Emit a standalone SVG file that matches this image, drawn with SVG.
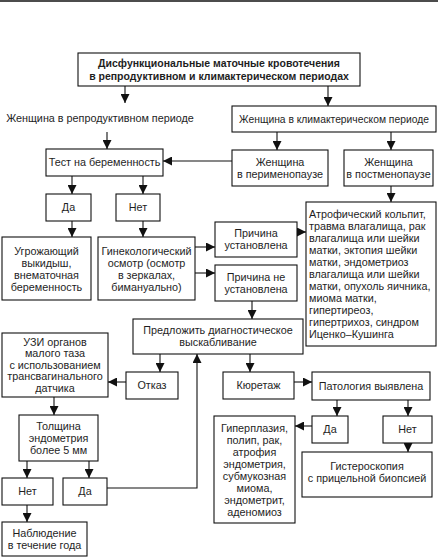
<svg xmlns="http://www.w3.org/2000/svg" width="438" height="557" viewBox="0 0 438 557">
<defs>
<marker id="ah" markerUnits="userSpaceOnUse" markerWidth="9" markerHeight="9" viewBox="0 0 9 9" refX="9" refY="4.5" orient="auto">
<path d="M0,0 L9,4.5 L0,9 z" fill="#111"/>
</marker>
<style>
rect{fill:#fff;stroke:#111;stroke-width:1.1}
text{font-family:"Liberation Sans",Arial,sans-serif;font-size:10.8px;fill:#1e1e1e;text-anchor:middle}
.t{font-weight:bold;font-size:10.5px}
.l{text-anchor:start}
.s{font-size:10.3px}
#connectors path{fill:none;stroke:#111;stroke-width:1.1;marker-end:url(#ah)}
</style>
</defs>
<rect x="0" y="0" width="438" height="557" style="fill:#fff;stroke:none"/>
<line x1="0" y1="1" x2="438" y2="1" stroke="#111" stroke-width="1.5"/>

<g id="title"><rect x="78" y="53" width="282" height="33"/>
<text class="t" x="219" y="67">Дисфункциональные маточные кровотечения</text>
<text class="t" x="219" y="80">в репродуктивном и климактерическом периодах</text></g>

<g id="reproductive"><text x="100" y="121.5">Женщина в репродуктивном периоде</text></g>

<g id="climacteric"><rect x="232" y="106" width="204" height="26"/>
<text class="s" x="334" y="122.5">Женщина в климактерическом периоде</text></g>

<g id="test"><rect x="46" y="149" width="117" height="27"/>
<text x="104.5" y="166">Тест на беременность</text></g>

<g id="peri"><rect x="232" y="150" width="96" height="36"/>
<text x="280" y="165.5">Женщина</text><text x="280" y="177.5">в перименопаузе</text></g>

<g id="post"><rect x="344" y="150" width="89" height="36"/>
<text x="388.5" y="165.5">Женщина</text><text x="388.5" y="177.5">в постменопаузе</text></g>

<g id="yes1"><rect x="46" y="194" width="45" height="27"/><text x="68.5" y="211">Да</text></g>
<g id="no1"><rect x="116" y="194" width="44" height="27"/><text x="138" y="211">Нет</text></g>

<g id="threat"><rect x="2" y="237" width="89" height="63"/>
<text x="46.5" y="254.5">Угрожающий</text><text x="46.5" y="266.5">выкидыш,</text><text x="46.5" y="278.5">внематочная</text><text x="46.5" y="290.5">беременность</text></g>

<g id="exam"><rect x="98" y="237" width="97" height="63"/>
<text x="146.5" y="254.5">Гинекологический</text><text x="146.5" y="266.5">осмотр (осмотр</text><text x="146.5" y="278.5">в зеркалах,</text><text x="146.5" y="290.5">бимануально)</text></g>

<g id="found"><rect x="215" y="222" width="82" height="35"/>
<text x="256" y="237">Причина</text><text x="256" y="249">установлена</text></g>

<g id="notfound"><rect x="215" y="265" width="82" height="36"/>
<text x="256" y="280.5">Причина не</text><text x="256" y="292.5">установлена</text></g>

<g id="causes"><rect x="306" y="202" width="130" height="144"/>
<text class="l" x="309" y="217.5">Атрофический кольпит,</text>
<text class="l" x="309" y="229.5">травма влагалища, рак</text>
<text class="l" x="309" y="241.5">влагалища или шейки</text>
<text class="l" x="309" y="253.5">матки, эктопия шейки</text>
<text class="l" x="309" y="265.5">матки, эндометриоз</text>
<text class="l" x="309" y="277.5">влагалища или шейки</text>
<text class="l" x="309" y="289.5">матки, опухоль яичника,</text>
<text class="l" x="309" y="301.5">миома матки,</text>
<text class="l" x="309" y="313.5">гипертиреоз,</text>
<text class="l" x="309" y="325.5">гипертрихоз, синдром</text>
<text class="l" x="309" y="337.5">Иценко–Кушинга</text></g>

<g id="curettage-offer"><rect x="133" y="319" width="170" height="35"/>
<text x="218" y="334">Предложить диагностическое</text><text x="218" y="346">выскабливание</text></g>

<g id="us"><rect x="2" y="333" width="106" height="64"/>
<text x="55" y="345.5">УЗИ органов</text><text x="55" y="357">малого таза</text><text x="55" y="368.5">с использованием</text><text x="55" y="380">трансвагинального</text><text x="55" y="391.5">датчика</text></g>

<g id="refuse"><rect x="126" y="372" width="52" height="27"/><text x="152" y="389">Отказ</text></g>

<g id="curettage"><rect x="223" y="372" width="71" height="27"/><text x="258.5" y="389">Кюретаж</text></g>

<g id="pathology"><rect x="312" y="372" width="118" height="28"/><text x="371" y="389.5">Патология выявлена</text></g>

<g id="thickness"><rect x="19" y="415" width="79" height="46"/>
<text x="58.5" y="429.5">Толщина</text><text x="58.5" y="441.5">эндометрия</text><text x="58.5" y="453.5">более 5 мм</text></g>

<g id="no2"><rect x="2" y="478" width="51" height="27"/><text x="27.5" y="495">Нет</text></g>
<g id="yes2"><rect x="63" y="478" width="44" height="27"/><text x="85" y="495">Да</text></g>

<g id="observe"><rect x="2" y="522" width="85" height="34"/>
<text x="44.5" y="536.5">Наблюдение</text><text x="44.5" y="548.5">в течение года</text></g>

<g id="yes3"><rect x="312" y="416" width="36" height="27"/><text x="330" y="433">Да</text></g>
<g id="no3"><rect x="383" y="416" width="49" height="27"/><text x="407.5" y="433">Нет</text></g>

<g id="hyper"><rect x="214" y="416" width="81" height="107"/>
<text x="254.5" y="431.5">Гиперплазия,</text><text x="254.5" y="443.5">полип, рак,</text><text x="254.5" y="455.5">атрофия</text><text x="254.5" y="467.5">эндометрия,</text><text x="254.5" y="479.5">субмукозная</text><text x="254.5" y="491.5">миома,</text><text x="254.5" y="503.5">эндометрит,</text><text x="254.5" y="515.5">аденомиоз</text></g>

<g id="hysteroscopy"><rect x="302" y="452" width="130" height="45"/>
<text x="367" y="469.5">Гистероскопия</text><text x="367" y="481.5">с прицельной биопсией</text></g>

<g id="connectors">
<path d="M125,86 V103"/>
<path d="M328,86 V106"/>
<path d="M107,132 V149"/>
<path d="M277,132 V150"/>
<path d="M391,132 V150"/>
<path d="M232,161 H163"/>
<path d="M391,186 V202"/>
<path d="M72,176 V194"/>
<path d="M143,176 V194"/>
<path d="M72,221 V237"/>
<path d="M143,221 V237"/>
<path d="M195,247 H215"/>
<path d="M195,273 H215"/>
<path d="M297,232 H306"/>
<path d="M252,301 V319"/>
<path d="M160,354 V372"/>
<path d="M250,354 V372"/>
<path d="M126,382 H108"/>
<path d="M54,397 V415"/>
<path d="M27,461 V478"/>
<path d="M89,461 V478"/>
<path d="M27,505 V522"/>
<path d="M107,488 H197 V354"/>
<path d="M294,382 H312"/>
<path d="M337,400 V416"/>
<path d="M408,400 V416"/>
<path d="M312,426 H295"/>
<path d="M408,443 V452"/>
</g>
</svg>
